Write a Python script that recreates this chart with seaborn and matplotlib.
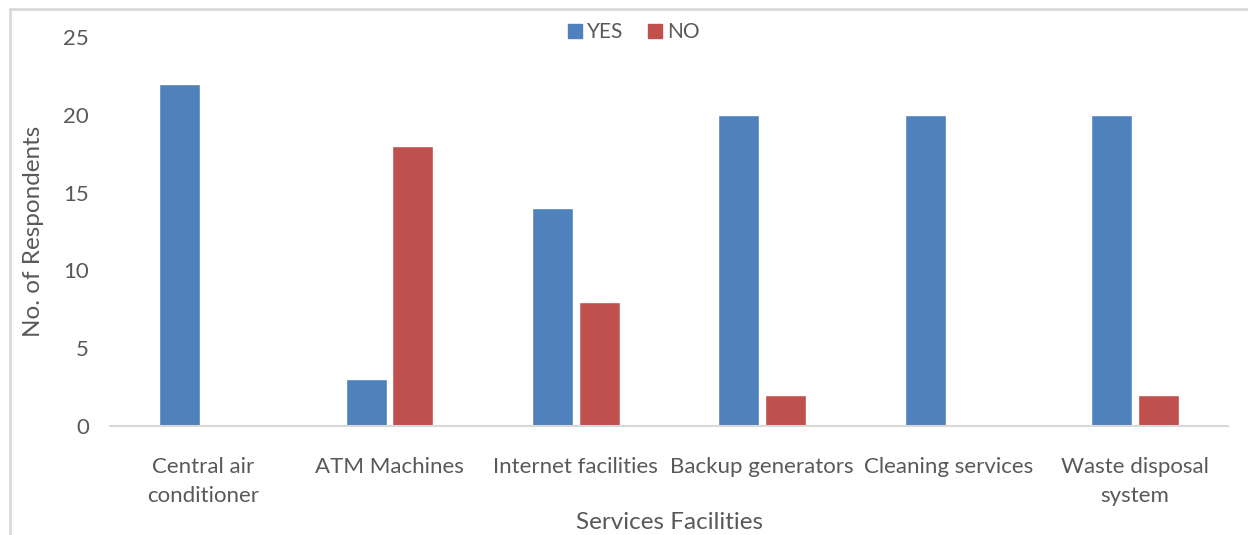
import matplotlib
matplotlib.use("Agg")
import matplotlib.pyplot as plt
import seaborn as sns
import pandas as pd
from matplotlib.lines import Line2D

categories = ["Central air\nconditioner", "ATM Machines", "Internet facilities",
              "Backup generators", "Cleaning services", "Waste disposal\nsystem"]
yes_values = [22, 3, 14, 20, 20, 20]
no_values = [0, 18, 8, 2, 0, 2]
series_names = ["YES", "NO"]
y_ticks = [0, 5, 10, 15, 20, 25]

df = pd.DataFrame({
    "Facility": categories * 2,
    "Response": [series_names[0]] * len(categories) + [series_names[1]] * len(categories),
    "Count": yes_values + no_values,
})

sns.set_theme(style="white")
plt.rcParams["font.family"] = ["Lato", "DejaVu Sans"]

W, H = 1248, 535
fig = plt.figure(figsize=(W / 100, H / 100), dpi=100)
ax = fig.add_axes([110 / W, (H - 426) / H, (1228 - 110) / W, (426 - 37) / H])

palette = {"YES": "#4F81BD", "NO": "#C0504D"}
sns.barplot(data=df, x="Facility", y="Count", hue="Response", palette=palette,
            width=0.5, gap=0.12, ax=ax, saturation=1, legend=False)

ax.set_ylim(0, 25)
ax.set_xlim(-0.5, len(categories) - 0.5)
ax.set_yticks(y_ticks)
ax.set_yticklabels([str(v) for v in y_ticks])
text_color = "#595959"
ax.tick_params(axis="y", length=0, pad=15, labelsize=16, labelcolor=text_color)
ax.tick_params(axis="x", length=0, pad=22, labelsize=16, labelcolor=text_color)
for lbl in ax.get_xticklabels():
    lbl.set_linespacing(1.6)

for s in ["top", "right", "left"]:
    ax.spines[s].set_visible(False)
ax.spines["bottom"].set_color("#d9d9d9")
ax.spines["bottom"].set_linewidth(1.5)

ax.set_xlabel("Services Facilities", fontsize=17.5, color=text_color, labelpad=4)
ax.set_ylabel("No. of Respondents", fontsize=17.5, color=text_color, labelpad=14)

handles = [Line2D([], [], marker="s", linestyle="", markersize=10,
                  markerfacecolor=palette[n], markeredgecolor=palette[n]) for n in series_names]
fig.legend(handles, series_names, loc="center", bbox_to_anchor=(632 / W, 1 - 32 / H),
           ncol=2, frameon=False, fontsize=15, labelcolor=text_color,
           handletextpad=0.1, columnspacing=1.0, handlelength=1.0)

# outer chart frame (left and top edges visible)
fig.add_artist(Line2D([10 / W, 10 / W], [0, 1 - 9 / H], transform=fig.transFigure,
                      color="#d9d9d9", linewidth=2))
fig.add_artist(Line2D([10 / W, 1], [1 - 9 / H, 1 - 9 / H], transform=fig.transFigure,
                      color="#d9d9d9", linewidth=2))

fig.savefig("out.png", dpi=100)
